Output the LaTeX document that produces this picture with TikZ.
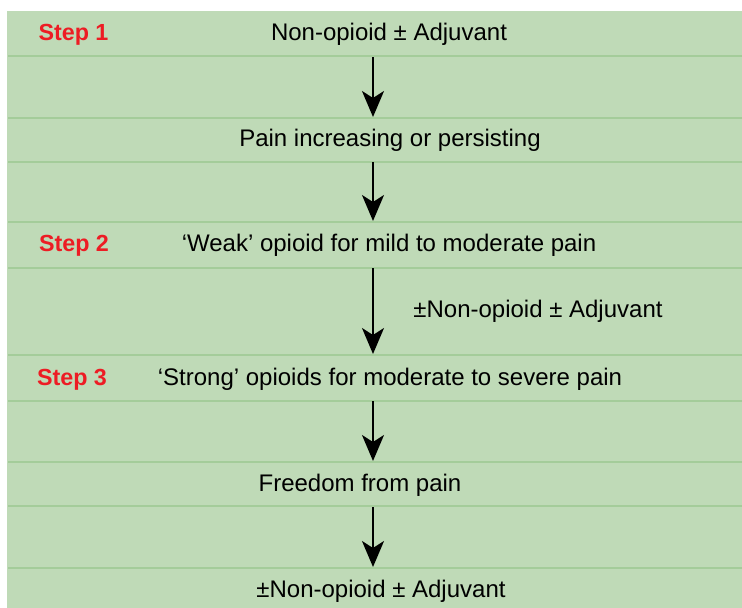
\documentclass[tikz,border=0pt]{standalone}
\usepackage{fontspec}
\setmainfont{Liberation Sans}
\usetikzlibrary{arrows.meta}
\definecolor{bggreen}{RGB}{191,218,183}
\definecolor{rulegreen}{RGB}{164,204,154}
\definecolor{stepred}{RGB}{237,28,36}
\begin{document}
\begin{tikzpicture}[x=1pt,y=-1pt,
  txt/.style={inner sep=0pt,anchor=base,font=\fontsize{24}{28}\selectfont,text=black},
  steplbl/.style={inner sep=0pt,anchor=base,font=\fontsize{23.3}{27}\selectfont\bfseries,text=stepred},
  rowrule/.style={draw=rulegreen,line width=1.5pt},
  flow/.style={draw=black,line width=2pt,-{Stealth[length=26pt,width=22pt,inset=7pt]}}]
\fill[white] (0,0) rectangle (742,608);
\useasboundingbox (0,0) rectangle (742,608);
\fill[bggreen] (7,11) rectangle (742,608);
\foreach \yy in {56,118,162,222,268,355,401,462,506,568}
  \draw[rowrule] (8,\yy) -- (742,\yy);
% texts
\node[steplbl] (s1) at (73.5,40) {Step 1};
\node[txt] (t1) at (389,40) {Non-opioid ± Adjuvant};
\node[txt] (t2) at (390,146) {Pain increasing or persisting};
\node[steplbl] (s2) at (74,251) {Step 2};
\node[txt] (t3) at (389,251) {‘Weak’ opioid for mild to moderate pain};
\node[txt] (lbl) at (538,317) {±Non-opioid ± Adjuvant};
\node[steplbl] (s3) at (72,385) {Step 3};
\node[txt] (t4) at (390,385) {‘Strong’ opioids for moderate to severe pain};
\node[txt] (t5) at (360,491) {Freedom from pain};
\node[txt] (t6) at (381,597) {±Non-opioid ± Adjuvant};
% arrow end points
\coordinate (a1s) at (373,57);  \coordinate (a1e) at (373,117);
\coordinate (a2s) at (373,162); \coordinate (a2e) at (373,221);
\coordinate (a3s) at (373,268); \coordinate (a3e) at (373,354);
\coordinate (a4s) at (373,401); \coordinate (a4e) at (373,461);
\coordinate (a5s) at (373,507); \coordinate (a5e) at (373,567);
\draw[flow] (a1s) -- (a1e);
\draw[flow] (a2s) -- (a2e);
\draw[flow] (a3s) -- (a3e);
\draw[flow] (a4s) -- (a4e);
\draw[flow] (a5s) -- (a5e);
\end{tikzpicture}
\end{document}
